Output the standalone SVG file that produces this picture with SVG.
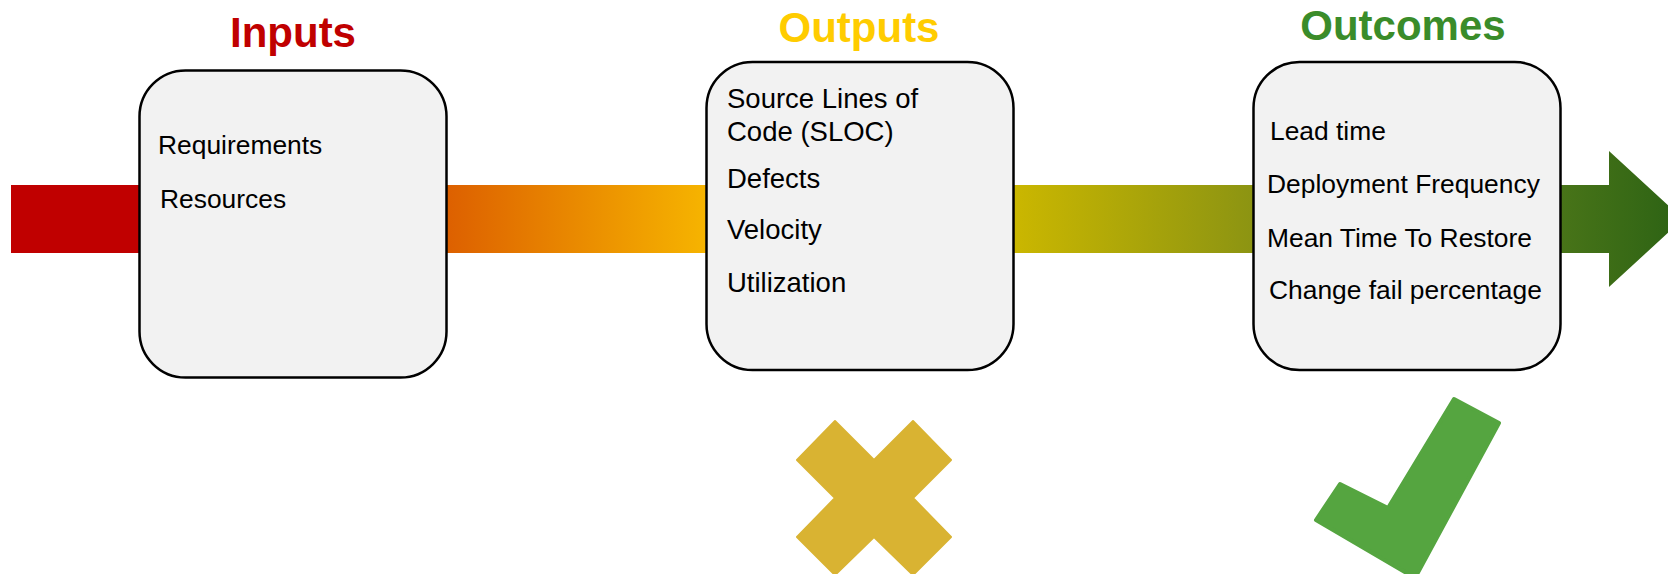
<svg xmlns="http://www.w3.org/2000/svg" width="1668" height="574" viewBox="0 0 1668 574">
<style>
.box{fill:#F2F2F2;stroke:#000;stroke-width:2.5}
.title{font-family:"Liberation Sans",Arial,sans-serif;font-weight:bold;font-size:42px;text-anchor:middle}
.item{font-family:"Liberation Sans",Arial,sans-serif;font-size:26.4px;fill:#000}
.item2{font-family:"Liberation Sans",Arial,sans-serif;font-size:27.5px;fill:#000}
</style>
<defs>
<linearGradient id="flow" gradientUnits="userSpaceOnUse" x1="11" y1="0" x2="1683" y2="0">
<stop offset="0" stop-color="#C00000"/>
<stop offset="0.0766" stop-color="#C00000"/>
<stop offset="0.2608" stop-color="#DD6000"/>
<stop offset="0.4157" stop-color="#F6B400"/>
<stop offset="0.5993" stop-color="#CBB700"/>
<stop offset="0.7428" stop-color="#8C9412"/>
<stop offset="0.927" stop-color="#487418"/>
<stop offset="1" stop-color="#2C6214"/>
</linearGradient>
</defs>
<rect width="1668" height="574" fill="#FFFFFF"/>
<g id="connectors">
<path d="M11,185 H1609 V151 L1683,219 L1609,287 V253 H11 Z" fill="url(#flow)"/>
</g>
<g id="inputs">
<text class="title" x="293" y="47" fill="#C00000">Inputs</text>
<rect class="box" x="139.5" y="70.5" width="307" height="307" rx="46"/>
<text class="item" x="158" y="154">Requirements</text>
<text class="item" x="160" y="207.5">Resources</text>
</g>
<g id="outputs">
<text class="title" x="859" y="42" fill="#FFCC00">Outputs</text>
<rect class="box" x="706.5" y="62" width="307" height="308" rx="46"/>
<text class="item2" x="727" y="108">Source Lines of</text>
<text class="item2" x="727" y="141">Code (SLOC)</text>
<text class="item2" x="727" y="188">Defects</text>
<text class="item2" x="727" y="239">Velocity</text>
<text class="item2" x="727" y="292">Utilization</text>
</g>
<g id="outcomes">
<text class="title" x="1403" y="40" fill="#3A8C2A">Outcomes</text>
<rect class="box" x="1253.5" y="62" width="307" height="308" rx="46"/>
<text class="item" x="1270" y="140">Lead time</text>
<text class="item" x="1267" y="193">Deployment Frequency</text>
<text class="item" x="1267" y="247">Mean Time To Restore</text>
<text class="item" x="1269" y="299">Change fail percentage</text>
</g>
<g id="cross">
<polygon points="835,421 874,460 913,421 951,460 913,498 951,537 913,575 874,537 835,575 797,537 835,498 797,460" fill="#D9B332" stroke="#D9B332" stroke-width="2" stroke-linejoin="round"/>
</g>
<g id="check">
<polygon points="1340,484 1388,508 1454,399 1499,423 1415,578 1316,520" fill="#55A540" stroke="#55A540" stroke-width="4" stroke-linejoin="round"/>
</g>
</svg>
